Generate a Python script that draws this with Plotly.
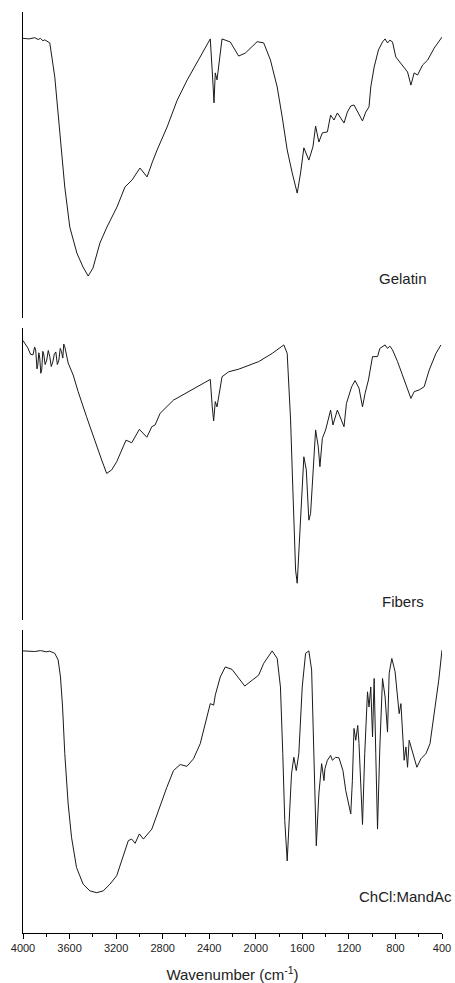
import plotly.graph_objects as go

# ---------------- data (wavenumber cm-1, transmittance a.u.) ----------------
gel_wn = [4000, 3950, 3899, 3870, 3850, 3830, 3813, 3790, 3770, 3727, 3684, 3641, 3598, 3537, 3485, 3440,
          3399, 3339, 3279, 3192, 3124, 3063, 2995, 2934, 2891, 2848, 2762, 2675, 2589, 2477, 2391,
          2368, 2359, 2348, 2333, 2290, 2219, 2147, 2089, 1988, 1932, 1874, 1816, 1773, 1730, 1687,
          1644, 1615, 1587, 1544, 1509, 1486, 1458, 1428, 1385, 1357, 1328, 1299, 1242, 1213, 1184,
          1156, 1135, 1113, 1083, 1055, 1027, 1012, 983, 946, 911, 889, 868, 848, 825, 797, 739,
          696, 667, 639, 610, 566, 523, 467, 400]
gel_t = [91.4, 91.2, 91.6, 91.0, 91.4, 90.6, 90.9, 90.4, 89.9, 78.8, 60.5, 42.8, 29.7, 21.2, 16.7, 13.7,
         16.3, 24.5, 29.7, 36.3, 42.8, 45.1, 49.0, 46.1, 50.7, 54.9, 62.4, 71.2, 77.8, 85.3, 91.2,
         76.8, 70.3, 80.1, 77.8, 91.2, 90.2, 85.6, 86.6, 90.3, 89.9, 84.3, 75.5, 65.7, 54.9, 47.4,
         40.8, 47.4, 55.6, 51.6, 55.9, 62.7, 57.5, 60.5, 60.8, 66.3, 64.7, 67.0, 63.7, 67.3, 69.3,
         69.6, 68.0, 66.3, 64.4, 67.3, 69.0, 75.5, 82.0, 87.6, 90.2, 91.2, 89.9, 90.8, 90.2, 85.3, 82.7,
         80.4, 76.1, 80.1, 79.4, 82.7, 84.3, 88.2, 91.8]

fib_wn = [4000, 3980, 3959, 3935, 3914, 3900, 3891, 3880, 3873, 3864, 3856, 3847, 3839, 3830, 3822,
          3810, 3796, 3783, 3770, 3757, 3744, 3731, 3718, 3705, 3692, 3680, 3669, 3658, 3650, 3641,
          3625, 3612, 3569, 3526, 3454, 3382, 3324, 3281, 3238, 3195, 3152, 3115, 3066, 3000, 2936,
          2893, 2865, 2822, 2707, 2563, 2391, 2374, 2362, 2348, 2333, 2290, 2233, 2147, 1975, 1859,
          1759, 1730, 1701, 1687, 1673, 1658, 1644, 1624, 1601, 1587, 1566, 1544, 1529, 1509, 1486,
          1463, 1449, 1428, 1400, 1357, 1337, 1299, 1271, 1242, 1221, 1176, 1147, 1113, 1083, 1061,
          1032, 997, 954, 934, 889, 868, 848, 825, 782, 739, 696, 667, 639, 596, 553, 510, 452, 409]
fib_t = [95.7, 94.5, 93.2, 91.0, 90.8, 93.5, 92.5, 86.0, 87.3, 91.5, 89.7, 84.5, 85.6, 92.0, 91.1,
         87.5, 89.0, 92.3, 90.2, 86.8, 88.4, 91.0, 91.8, 87.5, 89.0, 93.0, 91.9, 89.7, 94.5, 93.6,
         90.0, 88.0, 83.9, 78.2, 69.6, 61.1, 54.8, 50.2, 51.4, 54.2, 58.2, 61.6, 60.7, 65.3, 62.6,
         66.2, 66.8, 70.8, 75.3, 78.5, 82.4, 73.0, 68.2, 74.8, 73.0, 83.3, 85.0, 85.9, 88.5, 91.3,
         94.2, 91.3, 68.5, 51.4, 34.2, 17.1, 12.6, 28.5, 45.7, 55.9, 51.4, 34.2, 36.5, 51.4, 65.1,
         59.3, 52.5, 62.2, 65.1, 71.9, 66.8, 71.9, 69.1, 66.2, 74.2, 79.9, 82.0, 79.4, 73.0, 77.6,
         82.2, 90.2, 90.2, 93.0, 94.2, 93.0, 93.8, 92.5, 88.5, 83.9, 78.8, 75.9, 78.2, 78.8, 79.9, 85.6, 91.3, 94.2]

des_wn = [4000, 3950, 3899, 3850, 3800, 3770, 3727, 3698, 3678, 3660, 3641, 3612, 3583, 3540, 3483,
          3425, 3367, 3311, 3253, 3195, 3152, 3095, 3066, 3037, 3000, 2966, 2893, 2837, 2764, 2707,
          2649, 2592, 2535, 2477, 2434, 2391, 2362, 2348, 2305, 2262, 2204, 2147, 2095, 2032, 1975,
          1932, 1859, 1816, 1788, 1768, 1751, 1730, 1710, 1693, 1673, 1652, 1630, 1601, 1572, 1544,
          1520, 1501, 1480, 1458, 1434, 1414, 1406, 1385, 1357, 1342, 1314, 1285, 1251, 1227, 1204,
          1184, 1170, 1156, 1141, 1124, 1113, 1098, 1083, 1064, 1040, 1027, 1012, 997, 983, 969,
          954, 934, 911, 889, 868, 854, 831, 803, 782, 768, 753, 739, 725, 710, 696, 682, 653, 616,
          581, 538, 503, 467, 428, 400]
des_t = [93.1, 93.0, 92.9, 93.2, 92.8, 93.0, 92.3, 90.1, 84.5, 74.6, 59.2, 42.6, 31.6, 21.6, 16.1,
         13.9, 13.3, 13.9, 16.1, 18.9, 23.8, 30.5, 31.0, 29.6, 32.7, 31.0, 34.3, 40.4, 48.1, 53.6,
         55.6, 55.0, 57.5, 62.5, 69.1, 75.7, 75.2, 78.5, 84.5, 87.8, 87.0, 84.0, 81.5, 83.4, 85.1,
         89.0, 93.1, 90.6, 81.2, 59.2, 37.1, 23.8, 37.1, 52.5, 58.0, 53.6, 59.2, 81.2, 92.3, 93.1,
         86.8, 59.2, 28.8, 45.9, 55.9, 50.3, 54.2, 57.0, 58.6, 57.0, 58.0, 57.8, 53.6, 47.0, 42.6,
         39.3, 50.3, 67.5, 63.6, 68.5, 62.5, 48.1, 35.8, 59.2, 79.6, 74.6, 81.2, 64.7, 84.0, 59.2,
         34.3, 61.4, 84.0, 77.9, 66.3, 85.7, 90.6, 86.2, 77.9, 72.4, 75.7, 66.9, 57.0, 61.4, 54.7,
         63.6, 59.7, 54.7, 57.5, 59.2, 62.5, 72.4, 83.4, 93.4]

labels = ["Gelatin", "Fibers", "ChCl:MandAc"]
x_ticks = [4000, 3600, 3200, 2800, 2400, 2000, 1600, 1200, 800, 400]

# ---------------- figure ----------------
fig = go.Figure()
line = dict(color="#1a1a1a", width=1)
fig.add_trace(go.Scatter(x=gel_wn, y=gel_t, mode="lines", line=line, yaxis="y3", showlegend=False))
fig.add_trace(go.Scatter(x=fib_wn, y=fib_t, mode="lines", line=line, yaxis="y2", showlegend=False))
fig.add_trace(go.Scatter(x=des_wn, y=des_t, mode="lines", line=line, yaxis="y", showlegend=False))

yax = dict(showline=True, linecolor="black", linewidth=1, showticklabels=False, ticks="",
           showgrid=False, zeroline=False, range=[0, 100], fixedrange=True, automargin=False)

fig.update_layout(
    width=455, height=983,
    margin=dict(l=23, r=13, t=12, b=50),
    paper_bgcolor="white", plot_bgcolor="white",
    font=dict(family="Liberation Sans, Arial, sans-serif", color="#222"),
    xaxis=dict(range=[4000, 400], showline=True, linecolor="black", linewidth=1, automargin=False,
               tickmode="array", tickvals=x_ticks, ticktext=[str(v) for v in x_ticks],
               ticks="outside", ticklen=5, tickcolor="black", tickfont=dict(size=11, color="#222"),
               minor=dict(ticks="outside", ticklen=3, dtick=200, tick0=400, tickcolor="black"),
               showgrid=False, zeroline=False,
               title=dict(text="Wavenumber (cm<sup>-1</sup>)", font=dict(size=15, color="#222"), standoff=16)),
    yaxis=dict(domain=[0, 0.329], **yax),
    yaxis2=dict(domain=[0.3398, 0.6569], **yax),
    yaxis3=dict(domain=[0.6678, 1.0], **yax),
)

label_pos = [(0.907, 0.711), (0.907, 0.3594), (0.9117, 0.0391)]
for txt, (px, py) in zip(labels, label_pos):
    fig.add_annotation(text=txt, x=px, y=py, xref="paper", yref="paper", showarrow=False,
                       xanchor="center", yanchor="middle", font=dict(size=15, color="#222"))

fig.write_html("out.html")
